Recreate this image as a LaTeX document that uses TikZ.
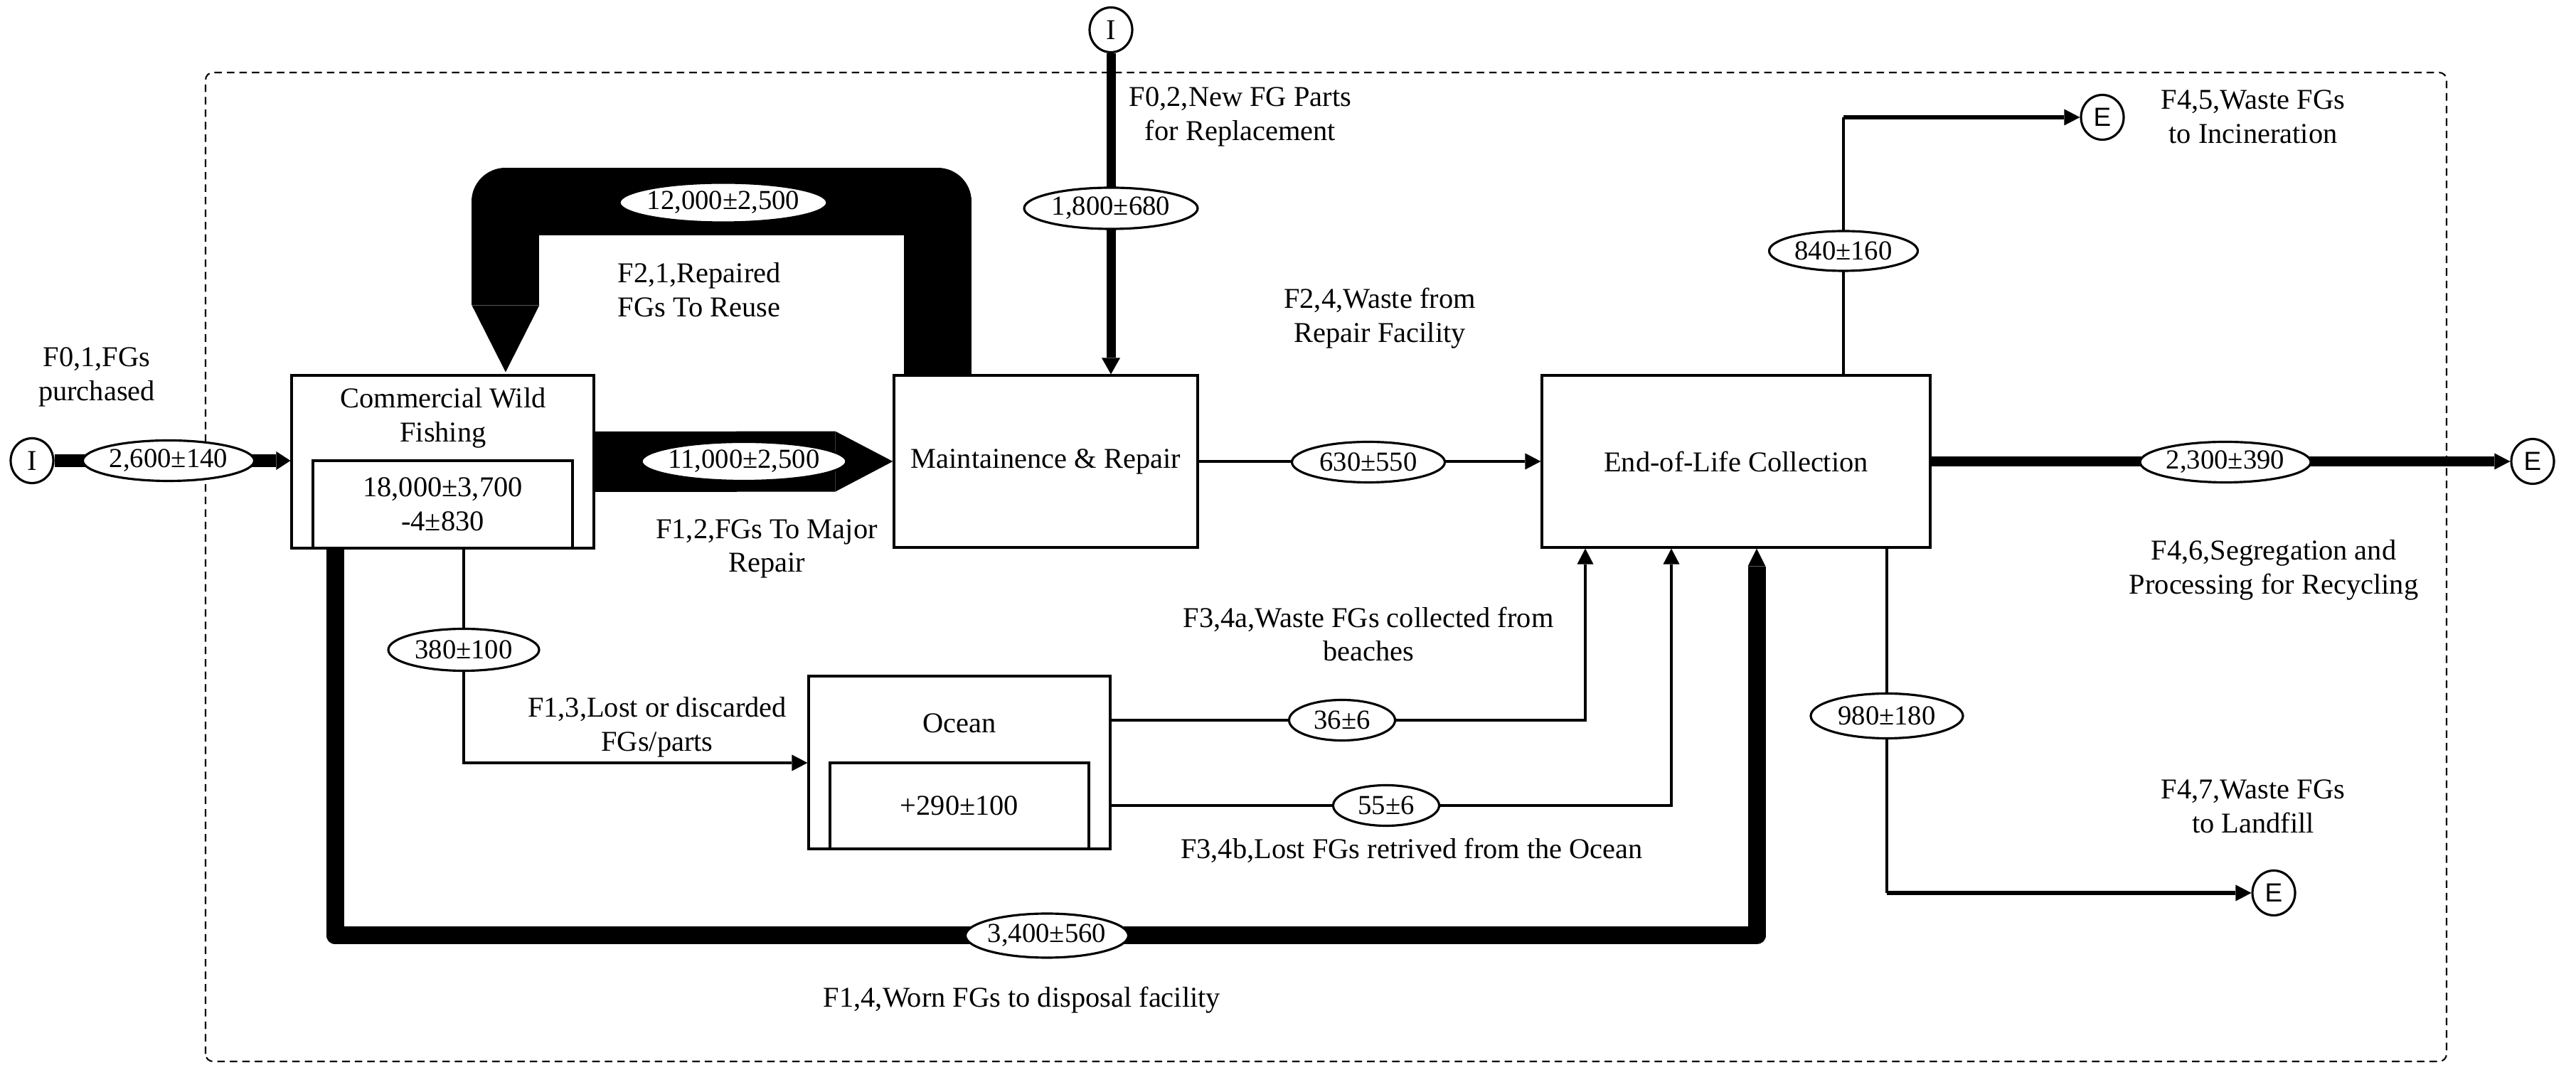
\documentclass[tikz,border=0pt]{standalone}
\usepackage{fontspec}
\setmainfont{Liberation Serif}
\newfontfamily\endfont{Liberation Sans}
\usetikzlibrary{arrows.meta,calc,positioning,shapes.geometric}
\newcommand{\valtxt}[1]{\makebox[0pt]{#1}}

\begin{document}
\begin{tikzpicture}[
    box/.style={draw, line width=0.9pt, inner sep=0pt},
    val/.style={ellipse, draw, fill=white, line width=0.9pt, inner sep=0pt,
        font=\fontsize{11}{13}\selectfont},
    lbl/.style={align=center, inner sep=0pt, font=\fontsize{11.5}{13.6}\selectfont},
    term/.style={ellipse, draw, line width=0.9pt, inner sep=0pt, minimum width=0.6cm,
        minimum height=0.63cm, font=\fontsize{11.5}{13.6}\selectfont},
    flowline/.style={line width=0.9pt},
    >={Triangle[length=2.2mm,width=2.3mm,line width=0pt]}
]
    \useasboundingbox (0,0) rectangle (36.22,14.98);

    % Draw system boundary.
    \draw[line width=0.6pt, dash pattern=on 3pt off 2pt, rounded corners=3pt]
        (2.89,0.05) rectangle (34.40,13.96);

    % Draw processes.
    \node[box, minimum width=4.25cm, minimum height=2.43cm] (cwf) at (6.225,8.485) {};
    \node[box, lbl, minimum width=3.65cm, minimum height=1.23cm, anchor=south] (cwfs)
        at (cwf.south) {18,000±3,700\\-4±830};
    \node[lbl] (cwft) at (6.23,9.10) {Commercial Wild\\Fishing};
    \node[box, lbl, minimum width=4.27cm, minimum height=2.42cm] (mr) at (14.705,8.49)
        {Maintainence \& Repair};
    \node[box, lbl, minimum width=5.46cm, minimum height=2.42cm] (eol) at (24.41,8.49)
        {End-of-Life Collection};
    \node[box, minimum width=4.24cm, minimum height=2.43cm] (ocn) at (13.49,4.255) {};
    \node[box, lbl, minimum width=3.64cm, minimum height=1.21cm, anchor=south] (ocns)
        at (ocn.south) {+290±100};
    \node[lbl] (ocnt) at (13.49,4.81) {Ocean};

    % Draw inputs and exits.
    \node[term] (in1) at (0.45,8.50) {I};
    \node[term] (in2) at (15.62,14.56) {I};
    \node[term, font=\endfont\fontsize{10.5}{12}\selectfont] (e45) at (29.56,13.33) {E};
    \node[term, font=\endfont\fontsize{10.5}{12}\selectfont] (e46) at (35.61,8.49) {E};
    \node[term, font=\endfont\fontsize{10.5}{12}\selectfont] (e47) at (31.97,2.42) {E};

    % Draw flows.
    \coordinate (c45) at (25.92,13.33);
    \coordinate (c47) at (26.53,2.42);
    \coordinate (c13) at (6.52,4.25);
    \coordinate (c34a) at (22.29,4.85);
    \coordinate (c34b) at (23.50,3.65);
    \coordinate (c14a) at (4.71,1.82);
    \coordinate (c14b) at (24.70,1.82);

    \draw[line width=1.8mm, -{Triangle[length=2mm,width=2.6mm,line width=0pt]}]
        (in1) -- (cwf.west |- in1);
    \draw[line width=1.3mm, -{Triangle[length=2.3mm,width=2.6mm,line width=0pt]}]
        (in2) -- (in2 |- mr.north);
    \draw[line width=8.5mm, -{Triangle[length=8.1mm,width=8.5mm,line width=0pt]}]
        (cwf.east) -- (mr.west);
    \draw[line width=9.5mm, line join=round,
        -{Triangle[length=9.4mm,width=9.5mm,line width=0pt]}]
        ($(mr.north west)+(0.63,0)$) |- ($(cwf.north west)+(3.025,2.43)$)
        -- ($(cwf.north west)+(3.025,0.03)$);
    \draw[flowline, ->] (mr.east) -- (eol.west);
    \draw[flowline] (c45 |- eol.north) -- (c45);
    \draw[line width=0.6mm, ->] (c45) -- (e45);
    \draw[line width=1.4mm, ->] (eol.east) -- (e46);
    \draw[flowline] (c47 |- eol.south) -- (c47);
    \draw[line width=0.6mm, ->] (c47) -- (e47);
    \draw[flowline, ->] (c13 |- cwf.south) -- (c13) -- (ocn.west |- c13);
    \draw[flowline, ->] (ocn.east |- c34a) -- (c34a) -- (c34a |- eol.south);
    \draw[flowline, ->] (ocn.east |- c34b) -- (c34b) -- (c34b |- eol.south);
    \draw[line width=2.5mm, line join=round,
        -{Triangle[length=2.5mm,width=2.5mm,line width=0pt]}]
        (c14a |- cwf.south) -- (c14a) -- (c14b) -- (c14b |- eol.south);

    % Flow values.
    \node[val, minimum width=2.41cm, minimum height=0.57cm] (v01) at (2.37,8.50) {\valtxt{2,600±140}};
    \node[val, minimum width=2.92cm, minimum height=0.56cm] (v21) at (10.17,12.13) {\valtxt{12,000±2,500}};
    \node[val, minimum width=2.88cm, minimum height=0.55cm] (v12) at (10.46,8.49) {\valtxt{11,000±2,500}};
    \node[val, minimum width=2.44cm, minimum height=0.58cm] (v02) at (15.62,12.05) {\valtxt{1,800±680}};
    \node[val, minimum width=2.15cm, minimum height=0.57cm] (v24) at (19.24,8.48) {\valtxt{630±550}};
    \node[val, minimum width=2.09cm, minimum height=0.56cm] (v45) at (25.92,11.45) {\valtxt{840±160}};
    \node[val, minimum width=2.40cm, minimum height=0.57cm] (v46) at (31.29,8.48) {\valtxt{2,300±390}};
    \node[val, minimum width=2.14cm, minimum height=0.63cm] (v47) at (26.53,4.91) {\valtxt{980±180}};
    \node[val, minimum width=2.12cm, minimum height=0.59cm] (v13) at (6.52,5.84) {\valtxt{380±100}};
    \node[val, minimum width=1.49cm, minimum height=0.57cm] (v34a) at (18.87,4.85) {\valtxt{36±6}};
    \node[val, minimum width=1.49cm, minimum height=0.57cm] (v34b) at (19.49,3.65) {\valtxt{55±6}};
    \node[val, minimum width=2.29cm, minimum height=0.62cm] (v14) at (14.72,1.82) {\valtxt{3,400±560}};

    % Flow names.
    \node[lbl] (n01) at (1.36,9.68) {F0,1,FGs\\purchased};
    \node[lbl] (n02) at (17.44,13.34) {F0,2,New FG Parts\\for Replacement};
    \node[lbl, align=left, anchor=west] (n21) at (8.68,10.90) {F2,1,Repaired\\FGs To Reuse};
    \node[lbl] (n12) at (10.78,7.26) {F1,2,FGs To Major\\Repair};
    \node[lbl] (n24) at (19.40,10.50) {F2,4,Waste from\\Repair Facility};
    \node[lbl] (n45) at (31.68,13.34) {F4,5,Waste FGs\\to Incineration};
    \node[lbl] (n46) at (31.97,6.96) {F4,6,Segregation and\\Processing for Recycling};
    \node[lbl] (n47) at (31.68,3.64) {F4,7,Waste FGs\\to Landfill};
    \node[lbl] (n13) at (9.24,4.75) {F1,3,Lost or discarded\\FGs/parts};
    \node[lbl] (n34a) at (19.24,6.06) {F3,4a,Waste FGs collected from\\beaches};
    \node[lbl] (n34b) at (19.85,3.02) {F3,4b,Lost FGs retrived from the Ocean};
    \node[lbl] (n14) at (14.37,0.91) {F1,4,Worn FGs to disposal facility};
\end{tikzpicture}
\end{document}
